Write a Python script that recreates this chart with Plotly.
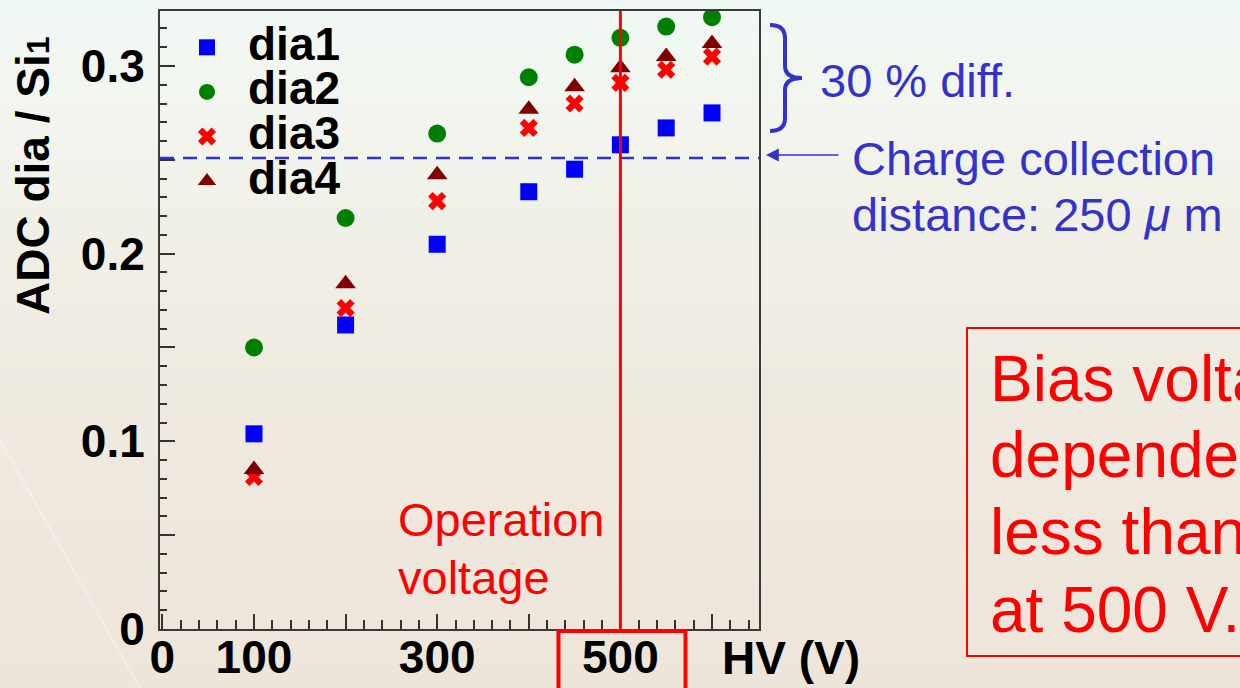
import plotly.graph_objects as go

# ---- data ---------------------------------------------------------------
hv = [100, 200, 300, 400, 450, 500, 550, 600]          # bias voltage (V)
dia1 = [0.104, 0.162, 0.205, 0.233, 0.245, 0.258, 0.267, 0.275]
dia2 = [0.150, 0.219, 0.264, 0.294, 0.306, 0.315, 0.321, 0.326]
dia3 = [0.081, 0.171, 0.228, 0.267, 0.280, 0.291, 0.298, 0.305]
dia4 = [0.085, 0.184, 0.242, 0.277, 0.289, 0.299, 0.305, 0.312]
series_names = ["dia1", "dia2", "dia3", "dia4"]

ccd_level = 0.251          # ratio for 250 um charge collection distance
operation_hv = 500         # operating voltage (V)

x_tick_vals = [0, 100, 200, 300, 400, 500, 600]
x_tick_text = ["0", "100", "", "300", "", "500", ""]
y_tick_vals = [0, 0.05, 0.1, 0.15, 0.2, 0.25, 0.3]
y_tick_text = ["0", "", "0.1", "", "0.2", "", "0.3"]

# ---- page geometry (pixels) ---------------------------------------------
W, H = 1240, 688
L, R, T, B = 160, 759, 11, 629     # plot frame edges


def fx(p):
    """pixel column -> paper x"""
    return (p - L) / (R - L)


def fy(p):
    """pixel row -> paper y"""
    return (B - p) / (B - T)


ROOT_FONT = "Liberation Sans, Arial, Helvetica, sans-serif"
SLIDE_FONT = "Liberation Sans, Arial, Helvetica, sans-serif"
BLUE = "#3333cc"
RED = "#ff0000"
ROOT_SIZE = 46

styles = [
    dict(symbol="square", size=17, color="#0000ff"),
    dict(symbol="circle", size=18, color="#008000"),
    dict(symbol="x", size=16, color="#ff0000"),
    dict(symbol="triangle-up", size=18, color="#800000"),
]

fig = go.Figure()
for name, ys, st in zip(series_names, [dia1, dia2, dia3, dia4], styles):
    fig.add_trace(go.Scatter(
        x=hv, y=ys, mode="markers",
        name=f'<span style="font-size:{ROOT_SIZE}px">{name}</span>',
        marker=dict(symbol=st["symbol"], size=st["size"], color=st["color"],
                    line=dict(width=0)),
    ))

shapes = []

# slide background: soft vertical gradient from mint to beige
stops = [(0, (240, 248, 244)), (120, (242, 245, 238)), (260, (240, 238, 229)),
         (420, (239, 233, 223)), (688, (238, 229, 218))]


def bg_color(yp):
    for (y0, c0), (y1, c1) in zip(stops[:-1], stops[1:]):
        if y0 <= yp <= y1:
            t = (yp - y0) / (y1 - y0)
            return "rgb(%d,%d,%d)" % tuple(round(a + (b - a) * t) for a, b in zip(c0, c1))
    return "rgb(%d,%d,%d)" % stops[-1][1]


step = 8
for yp in range(0, H, step):
    shapes.append(dict(type="rect", xref="paper", yref="paper", layer="below",
                       x0=fx(-5), x1=fx(W + 5), y0=fy(yp + step + 1), y1=fy(yp),
                       fillcolor=bg_color(yp + step / 2), line=dict(width=0)))
# faint diagonal streak of the slide template
shapes.append(dict(type="line", xref="paper", yref="paper", layer="below",
                   x0=fx(0), y0=fy(440), x1=fx(140), y1=fy(688),
                   line=dict(color="rgba(255,255,255,0.3)", width=2)))

# charge-collection-distance reference line
shapes.append(dict(type="line", xref="paper", yref="y", x0=0, x1=1,
                   y0=ccd_level, y1=ccd_level,
                   line=dict(color=BLUE, width=2.5, dash="14px,9px")))
# operation voltage marker
shapes.append(dict(type="line", xref="x", yref="paper", x0=operation_hv, x1=operation_hv,
                   y0=0, y1=1, line=dict(color=RED, width=3)))
# box around the 500 V tick label
shapes.append(dict(type="rect", xref="paper", yref="paper",
                   x0=fx(558.5), x1=fx(685.5), y0=fy(700), y1=fy(631),
                   line=dict(color=RED, width=4)))
# curly brace spanning the spread between the devices
brace = (f"M{fx(770)},{fy(25)} Q{fx(785)},{fy(25)} {fx(785)},{fy(38)} "
         f"L{fx(785)},{fy(66)} Q{fx(785)},{fy(78)} {fx(802)},{fy(78)} "
         f"Q{fx(785)},{fy(78)} {fx(785)},{fy(90)} L{fx(785)},{fy(118)} "
         f"Q{fx(785)},{fy(131)} {fx(770)},{fy(131)}")
shapes.append(dict(type="path", xref="paper", yref="paper", path=brace,
                   line=dict(color=BLUE, width=4)))
# conclusion box
shapes.append(dict(type="rect", xref="paper", yref="paper",
                   x0=fx(967), x1=fx(1400), y0=fy(656), y1=fy(328),
                   line=dict(color=RED, width=2)))

annotations = []


def text(s, xp, yp, size, color, family=SLIDE_FONT, bold=False, anchor="left", angle=0):
    annotations.append(dict(
        text=s, xref="paper", yref="paper", x=fx(xp), y=fy(yp),
        xanchor=anchor, yanchor="middle", showarrow=False, textangle=angle,
        font=dict(family=family, size=size, color=color,
                  weight="bold" if bold else "normal"),
    ))


# axis titles in ROOT style
text("ADC dia / Si<span style='font-size:32px'>1</span>", 33, 175, ROOT_SIZE, "black",
     family=ROOT_FONT, bold=True, anchor="center", angle=-90)
text("HV (V)", 720, 658, ROOT_SIZE, "black", family=ROOT_FONT, bold=True)

# slide annotations
text("Operation", 396, 519, 47, RED)
text("voltage", 396, 577, 47, RED)
text("30 % diff.", 818, 81, 47, BLUE)
text("Charge collection", 850, 158, 47, BLUE)
text("distance: 250 <i>μ</i> m", 850, 215, 47, BLUE)
for line_txt, yp in zip(["Bias voltage", "dependence is", "less than 3 %", "at 500 V."],
                        [379, 455, 532, 610]):
    text(line_txt, 988, yp, 64, RED)

# arrow pointing at the dashed line
annotations.append(dict(text="", xref="paper", yref="paper", x=fx(766), y=fy(155),
                        ax=74, ay=0, showarrow=True, arrowhead=2, arrowsize=1.6,
                        arrowwidth=1.6, arrowcolor=BLUE, standoff=0))

axis_common = dict(
    showgrid=False, zeroline=False, showline=True, linecolor="#3a3a3a", linewidth=2,
    mirror=True, ticks="inside", tickwidth=2, tickcolor="#333333", ticklen=15,
    automargin=False,
    tickfont=dict(family=ROOT_FONT, size=ROOT_SIZE, color="black", weight="bold"),
)

fig.update_layout(
    width=W, height=H,
    margin=dict(l=L, r=W - R, t=T, b=H - B, pad=0, autoexpand=False),
    paper_bgcolor="rgb(238,229,218)",
    plot_bgcolor="rgba(0,0,0,0)",
    xaxis=dict(range=[-2.6, 651.3], tickmode="array", tickvals=x_tick_vals,
               ticktext=x_tick_text, ticklabelstandoff=-13,
               minor=dict(tickmode="linear", tick0=0, dtick=20, ticks="inside",
                          ticklen=9, tickwidth=2, tickcolor="#333333"),
               **axis_common),
    yaxis=dict(range=[0, 0.3293], tickmode="array", tickvals=y_tick_vals,
               ticktext=y_tick_text, ticklabelstandoff=4,
               minor=dict(tickmode="linear", tick0=0, dtick=0.01, ticks="inside",
                          ticklen=7, tickwidth=2, tickcolor="#333333"),
               **axis_common),
    legend=dict(x=fx(166), y=fy(20), xanchor="left", yanchor="top",
                bgcolor="rgba(0,0,0,0)", borderwidth=0, itemwidth=72,
                font=dict(family=ROOT_FONT, size=32, color="black", weight="bold")),
    shapes=shapes,
    annotations=annotations,
    showlegend=True,
)

fig.write_html("out.html")
